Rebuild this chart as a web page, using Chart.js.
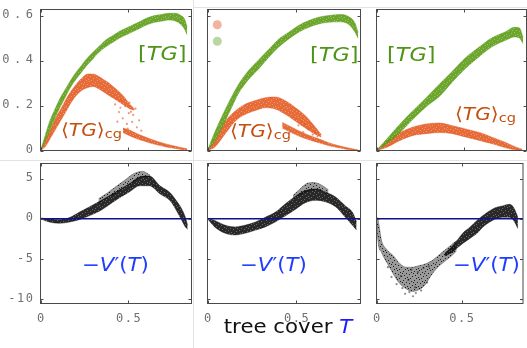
<!DOCTYPE html>
<html>
<head>
<meta charset="utf-8">
<script src="https://cdn.jsdelivr.net/npm/chart.js@4.4.1/dist/chart.umd.min.js"></script>
<style>
  body { margin: 0; background: #fff; }
  #wrap { position: relative; width: 527px; height: 348px; overflow: hidden; }
  canvas { position: absolute; left: 0; top: 0; }
  .rule { position: absolute; background: #e3e3e3; }
</style>
</head>
<body>
<div id="wrap">
  <div class="rule" style="left:0;top:160px;width:527px;height:1px"></div>
  <div class="rule" style="left:193px;top:7px;width:334px;height:1px"></div>
  <div class="rule" style="left:193px;top:0;width:1px;height:348px"></div>
  <canvas id="p1t" width="527" height="348"></canvas>
  <canvas id="p2t" width="527" height="348"></canvas>
  <canvas id="p3t" width="527" height="348"></canvas>
  <canvas id="p1b" width="527" height="348"></canvas>
  <canvas id="p2b" width="527" height="348"></canvas>
  <canvas id="p3b" width="527" height="348"></canvas>
</div>
<script>
// ---- ticks ----
const xTicks = [0, 0.5];
const xTickLabels = ['0', '0.5'];
const topYTicks = [0, 0.2, 0.4, 0.6];
const topYTickLabels = ['0', '0.2', '0.4', '0.6'];
const botYTicks = [-10, -5, 0, 5];
const botYTickLabels = ['-10', '-5', '0', '5'];

// ---- panel 1 (top): [TG] band and <TG>cg band ----
const tg1X  = [0, 0.02, 0.05, 0.08, 0.11, 0.14, 0.17, 0.20, 0.23, 0.26, 0.29, 0.33, 0.37, 0.41, 0.45, 0.49, 0.53, 0.57, 0.61, 0.65, 0.69, 0.73, 0.77, 0.80, 0.82, 0.835];
const tg1Lo = [0, 0.03, 0.085, 0.14, 0.19, 0.235, 0.28, 0.315, 0.345, 0.375, 0.40, 0.435, 0.46, 0.48, 0.50, 0.515, 0.53, 0.545, 0.56, 0.57, 0.575, 0.58, 0.575, 0.56, 0.54, 0.515];
const tg1Hi = [0, 0.05, 0.125, 0.18, 0.23, 0.27, 0.31, 0.345, 0.375, 0.405, 0.43, 0.46, 0.49, 0.51, 0.53, 0.545, 0.56, 0.575, 0.59, 0.60, 0.605, 0.61, 0.61, 0.60, 0.585, 0.55];
const cg1X  = [0, 0.03, 0.06, 0.09, 0.12, 0.15, 0.18, 0.21, 0.24, 0.27, 0.30, 0.33, 0.36, 0.39, 0.42, 0.45, 0.48, 0.51, 0.535];
const cg1Lo = [0, 0.02, 0.06, 0.10, 0.14, 0.18, 0.22, 0.25, 0.27, 0.28, 0.285, 0.275, 0.26, 0.245, 0.23, 0.215, 0.2, 0.185, 0.18];
const cg1Hi = [0, 0.05, 0.10, 0.15, 0.19, 0.235, 0.27, 0.30, 0.325, 0.34, 0.34, 0.33, 0.315, 0.30, 0.28, 0.26, 0.235, 0.205, 0.185];
const cg1TailX  = [0.47, 0.51, 0.55, 0.59, 0.63, 0.67, 0.71, 0.75, 0.79, 0.835];
const cg1TailLo = [0.08, 0.065, 0.052, 0.042, 0.032, 0.024, 0.017, 0.011, 0.006, 0.002];
const cg1TailHi = [0.10, 0.09, 0.075, 0.062, 0.05, 0.039, 0.03, 0.022, 0.015, 0.008];
const cg1SpreadX = [0.425, 0.447, 0.461, 0.468, 0.483, 0.492, 0.503, 0.507, 0.522, 0.528, 0.541, 0.549, 0.562, 0.438, 0.497, 0.574, 0.515, 0.455];
const cg1SpreadY = [0.205, 0.171, 0.226, 0.143, 0.197, 0.118, 0.166, 0.213, 0.127, 0.158, 0.186, 0.103, 0.134, 0.128, 0.097, 0.088, 0.172, 0.19];

// ---- panel 2 (top) ----
const tg2X  = [0, 0.04, 0.08, 0.12, 0.175, 0.23, 0.29, 0.345, 0.40, 0.455, 0.51, 0.57, 0.625, 0.68, 0.74, 0.795, 0.83, 0.846];
const tg2Lo = [0, 0.04, 0.10, 0.165, 0.255, 0.315, 0.365, 0.415, 0.46, 0.495, 0.525, 0.548, 0.563, 0.57, 0.572, 0.56, 0.525, 0.50];
const tg2Hi = [0, 0.08, 0.15, 0.215, 0.295, 0.355, 0.405, 0.45, 0.495, 0.525, 0.555, 0.578, 0.593, 0.60, 0.605, 0.595, 0.565, 0.525];
const cg2X  = [0, 0.04, 0.10, 0.155, 0.21, 0.27, 0.325, 0.38, 0.44, 0.495, 0.55, 0.60, 0.64];
const cg2Lo = [0, 0.015, 0.075, 0.13, 0.16, 0.178, 0.19, 0.185, 0.16, 0.13, 0.10, 0.075, 0.06];
const cg2Hi = [0, 0.045, 0.13, 0.175, 0.205, 0.222, 0.235, 0.238, 0.22, 0.19, 0.155, 0.11, 0.07];
const cg2TailX  = [0.42, 0.47, 0.52, 0.57, 0.62, 0.68, 0.73, 0.78, 0.82, 0.845];
const cg2TailLo = [0.10, 0.08, 0.062, 0.048, 0.036, 0.022, 0.013, 0.006, 0.002, 0];
const cg2TailHi = [0.125, 0.105, 0.085, 0.068, 0.053, 0.035, 0.023, 0.013, 0.007, 0.003];
const cg2SpreadX = [0.523, 0.547, 0.566, 0.583, 0.604, 0.618, 0.538, 0.592, 0.511];
const cg2SpreadY = [0.128, 0.117, 0.094, 0.108, 0.083, 0.063, 0.082, 0.071, 0.112];
const legendDotX = [0.055, 0.055];
const legendDotY = [0.559, 0.486];

// ---- panel 3 (top) ----
const tg3X  = [0, 0.06, 0.135, 0.21, 0.285, 0.36, 0.435, 0.51, 0.585, 0.66, 0.74, 0.79, 0.82, 0.84];
const tg3Lo = [0, 0.03, 0.08, 0.14, 0.195, 0.24, 0.305, 0.365, 0.415, 0.46, 0.49, 0.505, 0.50, 0.475];
const tg3Hi = [0, 0.052, 0.118, 0.178, 0.235, 0.295, 0.352, 0.412, 0.458, 0.50, 0.528, 0.548, 0.545, 0.505];
const cg3X  = [0, 0.06, 0.135, 0.21, 0.285, 0.36, 0.435, 0.51, 0.59, 0.665, 0.74, 0.80, 0.835];
const cg3Lo = [0, 0.015, 0.045, 0.067, 0.075, 0.08, 0.075, 0.06, 0.045, 0.03, 0.012, 0.002, 0];
const cg3Hi = [0, 0.044, 0.08, 0.104, 0.118, 0.122, 0.11, 0.096, 0.08, 0.058, 0.036, 0.015, 0.006];

// ---- bottom row: -V'(T) ----
const v1X  = [0, 0.05, 0.11, 0.165, 0.22, 0.28, 0.34, 0.395, 0.45, 0.51, 0.565, 0.62, 0.68, 0.74, 0.775, 0.805, 0.825, 0.838];
const v1Lo = [0, -0.4, -0.55, -0.4, -0.1, 0.4, 1.0, 1.8, 2.6, 3.4, 4.1, 4.1, 3.1, 2.2, 1.0, -0.2, -1.0, -1.3];
const v1Hi = [0.1, 0.0, -0.1, 0.15, 0.8, 1.5, 2.2, 2.9, 3.6, 4.4, 5.2, 5.3, 4.1, 3.2, 2.2, 1.2, 0.2, -0.8];
// sparse upper halo of the first -V' cloud
const v1HaloX  = [0.33, 0.38, 0.43, 0.48, 0.53, 0.58, 0.625];
const v1HaloLo = [2.0, 2.6, 3.2, 3.9, 4.6, 5.2, 5.2];
const v1HaloHi = [2.5, 3.2, 4.0, 4.8, 5.6, 5.9, 5.4];

const v2X  = [0, 0.04, 0.10, 0.155, 0.21, 0.27, 0.325, 0.38, 0.44, 0.495, 0.55, 0.61, 0.665, 0.72, 0.775, 0.815, 0.838];
const v2Lo = [0, -1.0, -1.8, -2.0, -1.8, -1.4, -1.0, -0.4, 0.4, 1.2, 2.0, 2.3, 2.1, 1.5, 0.2, -0.8, -1.4];
const v2Hi = [0.1, -0.2, -0.8, -1.0, -0.8, -0.4, 0.2, 0.8, 1.9, 2.8, 3.5, 3.7, 3.3, 2.7, 1.6, 0.8, -0.4];
const v2HaloX  = [0.48, 0.52, 0.56, 0.60, 0.64, 0.68];
const v2HaloLo = [2.4, 3.0, 3.4, 3.6, 3.5, 3.0];
const v2HaloHi = [2.9, 3.7, 4.4, 4.5, 4.2, 3.6];

const v3aX  = [0, 0.008, 0.03, 0.06, 0.10, 0.135, 0.175, 0.21, 0.25, 0.285, 0.325, 0.36, 0.40, 0.44, 0.47];
const v3aLo = [0, -2.7, -4.2, -5.4, -6.9, -8.0, -8.7, -9.0, -8.8, -8.2, -6.9, -6.0, -5.3, -4.6, -4.0];
const v3aHi = [0.3, 0.0, -2.7, -3.8, -4.6, -5.5, -6.0, -6.0, -5.8, -5.6, -5.2, -4.6, -3.9, -3.2, -2.7];
const v3bX  = [0.40, 0.44, 0.48, 0.51, 0.55, 0.59, 0.625, 0.665, 0.70, 0.74, 0.78, 0.805, 0.83];
const v3bLo = [-4.6, -4.2, -3.5, -3.0, -2.4, -1.8, -1.0, -0.4, 0.0, 0.2, 0.2, -0.2, -1.2];
const v3bHi = [-4.3, -3.5, -2.5, -1.7, -1.0, -0.2, 0.4, 1.0, 1.4, 1.6, 1.8, 1.4, 0.2];
const v3SpreadX = [0.118, 0.152, 0.168, 0.193, 0.214, 0.231, 0.262, 0.143, 0.204, 0.243, 0.276, 0.307, 0.088, 0.067, 0.227, 0.187, 0.297];
const v3SpreadY = [-8.1, -8.6, -9.3, -9.1, -9.6, -9.2, -8.9, -7.1, -6.3, -6.6, -6.1, -5.9, -7.2, -6.0, -8.5, -7.6, -7.9];

const zeroX = [0, 0.86];
const zeroY = [0, 0];

// ---- styling ----
const X_MAX = 0.86;
const GREEN_TXT = '#4f9417', ORANGE_TXT = '#c4500f', BLUE_TXT = '#1f3cff';

// irregular speckled fill so the bands read like dense scatter clouds
const SPECKS = [[1, 0], [7, 1], [4, 2], [10, 3], [2, 4], [8, 5], [5, 6], [0, 7], [9, 8], [3, 8], [6, 3]];
function speckle(rgb, a, dotA) {
  const c = document.createElement('canvas');
  c.width = 11; c.height = 9;
  const g = c.getContext('2d');
  g.fillStyle = 'rgba(' + rgb + ',' + a + ')';
  g.fillRect(0, 0, 11, 9);
  g.fillStyle = dotA > 0 ? 'rgba(' + rgb + ',' + dotA + ')' : 'rgba(255,255,255,0.3)';
  SPECKS.forEach(p => g.fillRect(p[0], p[1], 1, 1));
  return g.createPattern(c, 'repeat');
}

const GREEN = speckle('92,156,22', 0.9, 0), GREEN_EDGE = 'rgba(92,156,22,0.45)';
const ORANGE = speckle('226,86,28', 0.88, 0), ORANGE_EDGE = 'rgba(226,86,28,0.45)';
const BLACK = speckle('0,0,0', 0.84, 0), BLACK_EDGE = 'rgba(0,0,0,0.4)';
const GREY = speckle('0,0,0', 0.4, 0.8), GREY_EDGE = 'rgba(0,0,0,0.28)';

function pts(xs, ys) { return xs.map((x, i) => ({ x: x, y: ys[i] })); }

function band(xs, lo, hi, fillCol, edgeCol, order) {
  return [
    { data: pts(xs, hi), borderColor: edgeCol, borderWidth: 1, backgroundColor: fillCol,
      fill: '+1', pointRadius: 0, cubicInterpolationMode: 'monotone', order: order },
    { data: pts(xs, lo), borderColor: edgeCol, borderWidth: 1,
      fill: false, pointRadius: 0, cubicInterpolationMode: 'monotone', order: order }
  ];
}

function spread(xs, ys, col, order) {
  return { data: pts(xs, ys), showLine: false, pointRadius: 1.1, pointBorderWidth: 0,
           pointBackgroundColor: col, order: order };
}

function drawRich(ctx, note) {
  const pieces = note.parts.map(p => {
    const font = (p.i ? 'italic ' : '') + (p.size || note.size) + 'px "DejaVu Sans"';
    ctx.font = font;
    return Object.assign({}, p, { font: font, w: ctx.measureText(p.t).width });
  });
  const total = pieces.reduce((a, p) => a + p.w, 0);
  ctx.save();
  ctx.translate(note.x, note.y);
  ctx.scale(1.12, 1);
  let cx = note.align === 'center' ? -total / 2 : 0;
  pieces.forEach(p => {
    ctx.font = p.font;
    ctx.fillStyle = p.c || note.color;
    ctx.fillText(p.t, cx, p.dy || 0);
    cx += p.w;
  });
  ctx.restore();
}

// frame, inward ticks, tick labels, annotations
const framePlugin = {
  id: 'frame',
  afterDatasetsDraw(chart, args, o) {
    const { ctx, chartArea: a, scales: { x, y } } = chart;
    ctx.save();
    ctx.strokeStyle = '#4a4a4a';
    ctx.lineWidth = 1;
    ctx.strokeRect(a.left, a.top, a.right - a.left, a.bottom - a.top);
    ctx.beginPath();
    o.xTicks.forEach(v => {
      const px = Math.round(x.getPixelForValue(v)) + 0.5;
      ctx.moveTo(px, a.bottom); ctx.lineTo(px, a.bottom - 3);
      ctx.moveTo(px, a.top); ctx.lineTo(px, a.top + 3);
    });
    o.yTicks.forEach(v => {
      const py = Math.round(y.getPixelForValue(v)) + 0.5;
      ctx.moveTo(a.left, py); ctx.lineTo(a.left + 3, py);
      ctx.moveTo(a.right, py); ctx.lineTo(a.right - 3, py);
    });
    ctx.stroke();

    ctx.fillStyle = '#707070';
    ctx.font = '12px "DejaVu Sans Mono"';
    if (o.yLabels) {
      ctx.letterSpacing = o.ySpacing + 'px';
      ctx.textBaseline = 'middle';
      ctx.textAlign = 'left';
      o.yTicks.forEach((v, i) => {
        const w = ctx.measureText(o.yLabels[i]).width - o.ySpacing;
        ctx.fillText(o.yLabels[i], 33 - w, y.getPixelForValue(v) - 0.5);
      });
    }
    if (o.xLabels) {
      ctx.letterSpacing = '1.5px';
      ctx.textBaseline = 'alphabetic';
      ctx.textAlign = 'left';
      o.xTicks.forEach((v, i) => {
        const w = ctx.measureText(o.xLabels[i]).width - 1.5;
        ctx.fillText(o.xLabels[i], x.getPixelForValue(v) - w / 2, 322);
      });
    }
    ctx.letterSpacing = '0px';
    ctx.textBaseline = 'alphabetic';
    ctx.textAlign = 'left';
    (o.notes || []).forEach(n => drawRich(ctx, n));
    ctx.restore();
  }
};

function panel(id, box, yMin, yMax, datasets, frame) {
  new Chart(document.getElementById(id), {
    type: 'line',
    data: { datasets: datasets },
    options: {
      responsive: false,
      animation: false,
      events: [],
      layout: { padding: { left: box[0], top: box[1], right: 527 - box[2], bottom: 348 - box[3] } },
      scales: {
        x: { type: 'linear', min: 0, max: X_MAX, display: false },
        y: { type: 'linear', min: yMin, max: yMax, display: false }
      },
      plugins: { legend: { display: false }, tooltip: { enabled: false }, frame: frame }
    },
    plugins: [framePlugin]
  });
}

const TOP = [9.5, 150.5], BOT = [163.5, 303.5];
const COLS = [[40.5, 191.5], [207.5, 360.5], [376.5, 526.5]];
const TOP_Y = [0, 0.627], BOT_Y = [-10.5, 6.86];

const tgNote = (x, y) => ({ x: x, y: y, size: 20, color: GREEN_TXT,
  parts: [{ t: '[' }, { t: 'TG', i: true }, { t: ']' }] });
const cgNote = (x, y) => ({ x: x, y: y, size: 18, color: ORANGE_TXT,
  parts: [{ t: '⟨' }, { t: 'TG', i: true }, { t: '⟩' }, { t: 'cg', size: 13, dy: 2 }] });
const vNote = (x, y) => ({ x: x, y: y, size: 19, color: BLUE_TXT,
  parts: [{ t: '−' }, { t: 'V', i: true }, { t: '′' }, { t: '(' }, { t: 'T', i: true }, { t: ')' }] });

// top row
panel('p1t', [COLS[0][0], TOP[0], COLS[0][1], TOP[1]], TOP_Y[0], TOP_Y[1], [
  ...band(tg1X, tg1Lo, tg1Hi, GREEN, GREEN_EDGE, 1),
  ...band(cg1X, cg1Lo, cg1Hi, ORANGE, ORANGE_EDGE, 2),
  ...band(cg1TailX, cg1TailLo, cg1TailHi, ORANGE, ORANGE_EDGE, 2),
  spread(cg1SpreadX, cg1SpreadY, 'rgba(226,86,28,0.6)', 2)
], { xTicks: xTicks, yTicks: topYTicks, yLabels: topYTickLabels, ySpacing: 4.5,
     notes: [tgNote(138, 60), cgNote(61, 136)] });

panel('p2t', [COLS[1][0], TOP[0], COLS[1][1], TOP[1]], TOP_Y[0], TOP_Y[1], [
  ...band(tg2X, tg2Lo, tg2Hi, GREEN, GREEN_EDGE, 1),
  ...band(cg2X, cg2Lo, cg2Hi, ORANGE, ORANGE_EDGE, 2),
  ...band(cg2TailX, cg2TailLo, cg2TailHi, ORANGE, ORANGE_EDGE, 2),
  spread(cg2SpreadX, cg2SpreadY, 'rgba(226,86,28,0.6)', 2),
  { data: pts(legendDotX, legendDotY), showLine: false, pointRadius: 4.5, pointBorderWidth: 0,
    pointBackgroundColor: ['#f2b49d', '#bad6a3'], order: 0 }
], { xTicks: xTicks, yTicks: topYTicks, notes: [tgNote(310, 61), cgNote(230, 137)] });

panel('p3t', [COLS[2][0], TOP[0], COLS[2][1], TOP[1]], TOP_Y[0], TOP_Y[1], [
  ...band(tg3X, tg3Lo, tg3Hi, GREEN, GREEN_EDGE, 1),
  ...band(cg3X, cg3Lo, cg3Hi, ORANGE, ORANGE_EDGE, 2)
], { xTicks: xTicks, yTicks: topYTicks, notes: [tgNote(387, 61), cgNote(455, 120)] });

// bottom row
const zeroLine = () => ({ data: pts(zeroX, zeroY), borderColor: '#10108c', borderWidth: 1.5, pointRadius: 0, order: 0 });

panel('p1b', [COLS[0][0], BOT[0], COLS[0][1], BOT[1]], BOT_Y[0], BOT_Y[1], [
  zeroLine(),
  ...band(v1X, v1Lo, v1Hi, BLACK, BLACK_EDGE, 1),
  ...band(v1HaloX, v1HaloLo, v1HaloHi, GREY, GREY_EDGE, 2)
], { xTicks: xTicks, yTicks: botYTicks, yLabels: botYTickLabels, ySpacing: 1.5, xLabels: xTickLabels,
     notes: [vNote(82, 271)] });

panel('p2b', [COLS[1][0], BOT[0], COLS[1][1], BOT[1]], BOT_Y[0], BOT_Y[1], [
  zeroLine(),
  ...band(v2X, v2Lo, v2Hi, BLACK, BLACK_EDGE, 1),
  ...band(v2HaloX, v2HaloLo, v2HaloHi, GREY, GREY_EDGE, 2)
], { xTicks: xTicks, yTicks: botYTicks, xLabels: xTickLabels,
     notes: [vNote(240, 271),
       { x: 288, y: 333, size: 19, color: '#111', align: 'center',
         parts: [{ t: 'tree cover ' }, { t: 'T', i: true, c: '#1a1aff' }] }] });

panel('p3b', [COLS[2][0], BOT[0], COLS[2][1], BOT[1]], BOT_Y[0], BOT_Y[1], [
  zeroLine(),
  ...band(v3bX, v3bLo, v3bHi, BLACK, BLACK_EDGE, 1),
  ...band(v3aX, v3aLo, v3aHi, GREY, GREY_EDGE, 2),
  spread(v3SpreadX, v3SpreadY, 'rgba(0,0,0,0.45)', 2)
], { xTicks: xTicks, yTicks: botYTicks, xLabels: xTickLabels, notes: [vNote(453, 271)] });
</script>
</body>
</html>
